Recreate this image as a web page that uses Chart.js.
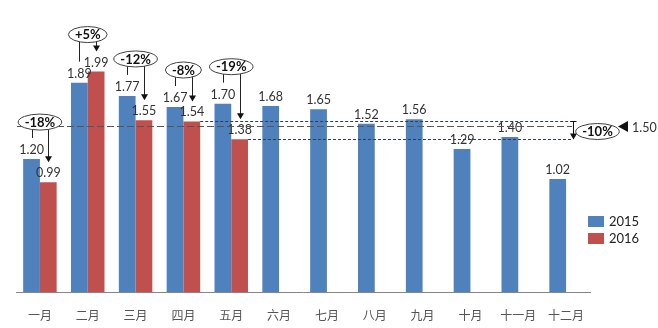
<!DOCTYPE html>
<html>
<head>
<meta charset="utf-8">
<script src="https://cdn.jsdelivr.net/npm/chart.js@4"></script>
<style>
  body { margin: 0; background: #fff; }
</style>
</head>
<body>
<canvas id="monthChart" width="658" height="328"></canvas>
<script>
const months = ["一月", "二月", "三月", "四月", "五月", "六月", "七月", "八月", "九月", "十月", "十一月", "十二月"];
const values2015 = [1.20, 1.89, 1.77, 1.67, 1.70, 1.68, 1.65, 1.52, 1.56, 1.29, 1.40, 1.02];
const values2016 = [0.99, 1.99, 1.55, 1.54, 1.38, null, null, null, null, null, null, null];
const seriesNames = ["2015", "2016"];
const targetValue = 1.50;

const BLUE = "#4f81bd";
const RED = "#c0504d";
const FONT = "Lato, 'Noto Sans CJK SC', sans-serif";

// round half away from zero, like Excel (epsilon for float noise)
function pct(a, b) {
  const raw = (b / a - 1) * 100;
  const p = Math.sign(raw) * Math.round(Math.abs(raw) + 1e-9);
  return (p > 0 ? "+" : "") + p + "%";
}

function arrowDown(ctx, x, tipY) {
  ctx.beginPath();
  ctx.moveTo(x, tipY);
  ctx.lineTo(x - 3.5, tipY - 6);
  ctx.lineTo(x + 3.5, tipY - 6);
  ctx.closePath();
  ctx.fill();
}

function bubble(ctx, x, y, text) {
  ctx.font = "bold 13px " + FONT;
  const w = ctx.measureText(text).width + 13;
  ctx.beginPath();
  ctx.ellipse(x, y, w / 2, 8, 0, 0, Math.PI * 2);
  ctx.fillStyle = "#fff";
  ctx.fill();
  ctx.strokeStyle = "#404040";
  ctx.lineWidth = 1;
  ctx.stroke();
  ctx.fillStyle = "#111";
  ctx.textAlign = "center";
  ctx.textBaseline = "middle";
  ctx.fillText(text, x, y + 0.5);
}

const annotations = {
  id: "annotations",
  afterDatasetsDraw(chart) {
    const ctx = chart.ctx;
    const y = chart.scales.y;
    const area = chart.chartArea;
    const blue = chart.getDatasetMeta(0).data;
    const red = chart.getDatasetMeta(1).data;
    const lineEnd = area.right - 18;
    ctx.save();

    // value labels
    ctx.font = "12.5px " + FONT;
    ctx.fillStyle = "#333";
    ctx.textAlign = "center";
    ctx.textBaseline = "middle";
    blue.forEach((b, i) => ctx.fillText(values2015[i].toFixed(2), b.x, b.y - 9));
    red.forEach((b, i) => {
      if (values2016[i] != null) ctx.fillText(values2016[i].toFixed(2), b.x, b.y - 9);
    });

    // target line
    const ty = Math.round(y.getPixelForValue(targetValue)) + 0.5;
    ctx.strokeStyle = "#555";
    ctx.lineWidth = 1;
    ctx.setLineDash([7, 3]);
    ctx.beginPath();
    ctx.moveTo(area.left + 1, ty);
    ctx.lineTo(lineEnd, ty);
    ctx.stroke();

    // last two months of 2016
    const hi = red[3], lo = red[4];
    const hiY = Math.round(hi.y) + 0.5, loY = Math.round(lo.y) + 0.5;
    ctx.strokeStyle = "#2f3d5c";
    ctx.setLineDash([3, 2]);
    ctx.beginPath();
    ctx.moveTo(hi.x + hi.width / 2, hiY);
    ctx.lineTo(lineEnd, hiY);
    ctx.moveTo(lo.x + lo.width / 2, loY);
    ctx.lineTo(lineEnd, loY);
    ctx.stroke();
    ctx.setLineDash([]);

    ctx.strokeStyle = "#111";
    ctx.fillStyle = "#111";
    const ax = lineEnd + 1.5;
    ctx.beginPath();
    ctx.moveTo(ax - 3, hiY);
    ctx.lineTo(ax + 3, hiY);
    ctx.moveTo(ax, hiY);
    ctx.lineTo(ax, loY - 4);
    ctx.stroke();
    arrowDown(ctx, ax, loY);
    bubble(ctx, ax + 24, (hiY + loY) / 2 + 1, pct(values2016[3], values2016[4]));

    // target marker
    ctx.fillStyle = "#111";
    ctx.beginPath();
    ctx.moveTo(area.right + 28, ty);
    ctx.lineTo(area.right + 38, ty - 5.5);
    ctx.lineTo(area.right + 38, ty + 5.5);
    ctx.closePath();
    ctx.fill();
    ctx.font = "12.5px " + FONT;
    ctx.fillStyle = "#333";
    ctx.textAlign = "left";
    ctx.textBaseline = "middle";
    ctx.fillText(targetValue.toFixed(2), area.right + 42, ty + 1);

    // year-on-year bubbles
    values2016.forEach((v, i) => {
      if (v == null) return;
      const b = blue[i], r = red[i];
      const bTop = b.y - 15, rTop = r.y - 15;
      const ey = Math.min(bTop, rTop) - 22;
      ctx.strokeStyle = "#222";
      ctx.fillStyle = "#111";
      ctx.lineWidth = 1;
      const bx = Math.round(b.x) + 0.5, rx = Math.round(r.x) + 0.5;
      ctx.beginPath();
      ctx.moveTo(bx, bTop - 6);
      ctx.lineTo(bx, ey);
      ctx.lineTo(rx, ey);
      ctx.lineTo(rx, rTop - 10);
      ctx.stroke();
      arrowDown(ctx, rx, rTop - 5);
      bubble(ctx, (b.x + r.x) / 2, ey, pct(values2015[i], v));
    });

    // legend
    [BLUE, RED].forEach((c, i) => {
      const ly = 216 + i * 17;
      ctx.fillStyle = c;
      ctx.fillRect(area.right - 2, ly, 16, 11);
      ctx.fillStyle = "#222";
      ctx.font = "13px " + FONT;
      ctx.textAlign = "left";
      ctx.textBaseline = "middle";
      ctx.fillText(seriesNames[i], area.right + 19, ly + 6);
    });
    ctx.restore();
  }
};

new Chart(document.getElementById("monthChart"), {
  type: "bar",
  data: {
    labels: months,
    datasets: [
      { label: seriesNames[0], data: values2015, backgroundColor: BLUE },
      { label: seriesNames[1], data: values2016, backgroundColor: RED }
    ]
  },
  options: {
    responsive: false,
    animation: false,
    layout: { padding: { left: 16, right: 68, top: 4, bottom: 0 } },
    datasets: { bar: { categoryPercentage: 0.7, barPercentage: 1 } },
    plugins: { legend: { display: false }, tooltip: { enabled: false } },
    scales: {
      x: {
        grid: { display: false },
        border: { display: true, color: "#868686", width: 1 },
        ticks: { color: "#555", padding: 9, font: { size: 12, family: FONT }, maxRotation: 0 },
        afterFit(scale) { scale.height = 36; }
      },
      y: { display: false, min: 0, max: 2.6 }
    }
  },
  plugins: [annotations]
});
</script>
</body>
</html>
